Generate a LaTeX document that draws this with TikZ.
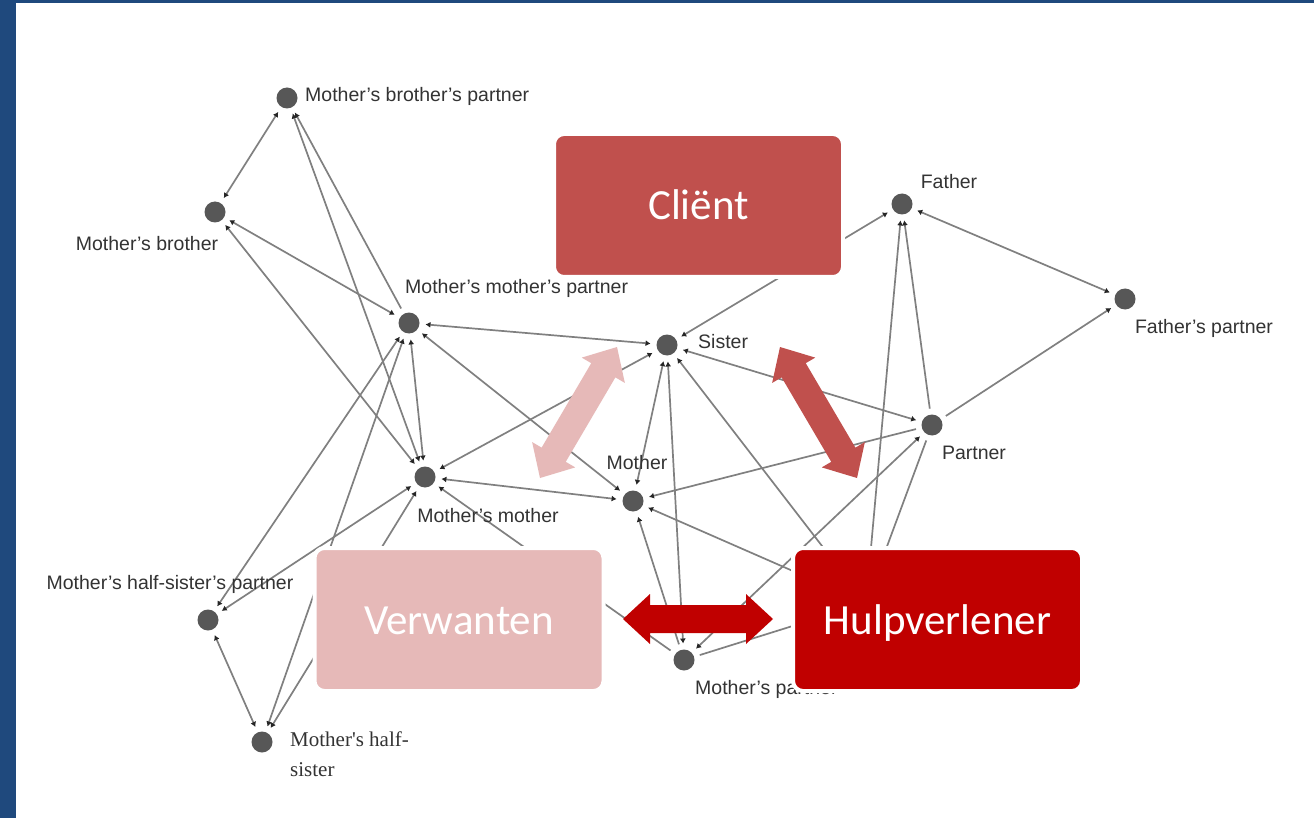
\documentclass[tikz,border=0pt]{standalone}
\usepackage{fontspec}
\setmainfont{Liberation Sans}
\newfontfamily\boxfont{Carlito}
\newfontfamily\oldserif{Liberation Serif}
\usetikzlibrary{arrows.meta,calc}

\definecolor{frameblue}{HTML}{1F497D}
\definecolor{clientred}{HTML}{C0504D}
\definecolor{kinpink}{HTML}{E6B9B8}
\definecolor{helperred}{HTML}{C00000}
\definecolor{edgegray}{HTML}{808080}
\definecolor{dotgray}{HTML}{575757}
\definecolor{labelgray}{HTML}{333333}

% Filled double-headed block arrow from #1 to #2 in colour #3
\newcommand{\dblblock}[3]{%
  \fill[#3] (#1)
    -- ($(#1)!27pt!(#2)!25pt!90:(#2)$)
    -- ($(#1)!27pt!(#2)!14pt!90:(#2)$)
    -- ($(#2)!27pt!(#1)!14pt!-90:(#1)$)
    -- ($(#2)!27pt!(#1)!25pt!-90:(#1)$)
    -- (#2)
    -- ($(#2)!27pt!(#1)!25pt!90:(#1)$)
    -- ($(#2)!27pt!(#1)!14pt!90:(#1)$)
    -- ($(#1)!27pt!(#2)!14pt!-90:(#2)$)
    -- ($(#1)!27pt!(#2)!25pt!-90:(#2)$)
    -- cycle;}

\begin{document}
\begin{tikzpicture}[x=1pt,y=-1pt,
  person/.style={circle, fill=dotgray, minimum size=21pt, inner sep=0pt, outer sep=6pt},
  lbl/.style={font=\fontsize{19.5}{22}\selectfont, text=labelgray, inner sep=0pt},
  rel/.style={draw=edgegray, line width=1.7pt},
  dot/.tip={Latex[length=5pt,width=6pt,color=black!85]},
  tipboth/.style={rel, arrows={dot-dot}},
  tipstart/.style={rel, arrows={dot-}},
  tipend/.style={rel, arrows={-dot}},
  role/.style={rounded corners=10pt, draw=white, line width=4pt,
    minimum width=289pt, minimum height=143pt, inner sep=0pt,
    text height=29pt, text depth=0pt,
    text=white, font=\boxfont\fontsize{43}{50}\selectfont},
]
% page and frame
\useasboundingbox (0,0) rectangle (1314,818);
\fill[white] (0,0) rectangle (1314,818);
\fill[frameblue] (0,0) rectangle (16,818);
\fill[frameblue] (0,0) rectangle (1314,3);

% family members
\node[person] (mbp)  at (287,98)  {};
\node[person] (mb)   at (215,212) {};
\node[person] (mmp)  at (409,323) {};
\node[person] (mm)   at (425,477) {};
\node[person] (sis)  at (667,345) {};
\node[person] (mot)  at (633,501) {};
\node[person] (fat)  at (902,204) {};
\node[person] (fp)   at (1125,299) {};
\node[person] (par)  at (932,425) {};
\node[person] (mhsp) at (208,620) {};
\node[person] (mhs)  at (262,742) {};
\node[person] (mp)   at (684,660) {};
\coordinate (hid) at (866,603);

% relations
\draw[tipboth] (mbp) -- (mb);
\draw[tipstart] (mbp) -- (mmp);
\draw[tipboth] (mbp) -- (mm);
\draw[tipboth] (mb) -- (mmp);
\draw[tipboth] (mb) -- (mm);
\draw[tipboth] (mmp) -- (sis);
\draw[tipboth] (mmp) -- (mot);
\draw[tipboth] (mmp) -- (mm);
\draw[tipboth] (mmp) -- (mhsp);
\draw[tipboth] (mmp) -- (mhs);
\draw[tipboth] (mm) -- (sis);
\draw[tipboth] (mm) -- (mot);
\draw[tipboth] (mm) -- (mhsp);
\draw[tipboth] (mm) -- (mhs);
\draw[tipstart] (mm) -- (mp);
\draw[tipboth] (mhsp) -- (mhs);
\draw[tipboth] (sis) -- (fat);
\draw[tipboth] (sis) -- (par);
\draw[tipboth] (sis) -- (mot);
\draw[tipboth] (sis) -- (mp);
\draw[tipstart] (sis) -- (hid);
\draw[tipstart] (mot) -- (par);
\draw[tipstart] (mot) -- (mp);
\draw[tipstart] (mot) -- (hid);
\draw[tipstart] (fat) -- (par);
\draw[tipstart] (fat) -- (hid);
\draw[tipboth] (fat) -- (fp);
\draw[tipend] (par) -- (fp);
\draw[tipboth] (par) -- (mp);
\draw[rel] (par) -- (hid);
\draw[rel] (mp) -- (hid);

% names
\node[lbl, anchor=west] (l-mbp) at (305,96) {Mother's brother's partner};
\node[lbl] (l-mb) at (147,244) {Mother's brother};
\node[lbl, anchor=west] (l-mmp) at (405,288) {Mother's mother's partner};
\node[lbl, anchor=west] (l-sis) at (698,342) {Sister};
\node[lbl] (l-fat) at (949,182) {Father};
\node[lbl] (l-fp) at (1204,328) {Father's partner};
\node[lbl] (l-par) at (974,453) {Partner};
\node[lbl] (l-mot) at (637,463) {Mother};
\node[lbl] (l-mm) at (488,516) {Mother's mother};
\node[lbl] (l-mhsp) at (170,584) {Mother's half-sister's partner};
\node[lbl, anchor=west] (l-mp) at (695,689) {Mother's partner};
\node[anchor=north west, inner sep=0pt, text=labelgray, align=left,
      font=\oldserif\fontsize{21}{30}\selectfont] (l-mhs) at (290,732)
      {Mother's half-\\sister};

% roles
\node[role, fill=clientred] (client) at (698.5,205.5) {Cliënt};
\node[role, fill=kinpink] (kin) at (459,619.5) {Verwanten};
\node[role, fill=helperred] (helper) at (937.5,619.5) {Hulpverlener};

% interactions between roles
\coordinate (ka1) at (540,478);
\coordinate (ka2) at (617,347);
\coordinate (ca1) at (780,347);
\coordinate (ca2) at (857,478);
\coordinate (ha1) at (623,619);
\coordinate (ha2) at (773,619);
\dblblock{ka1}{ka2}{kinpink}
\dblblock{ca1}{ca2}{clientred}
\dblblock{ha1}{ha2}{helperred}
\end{tikzpicture}
\end{document}
